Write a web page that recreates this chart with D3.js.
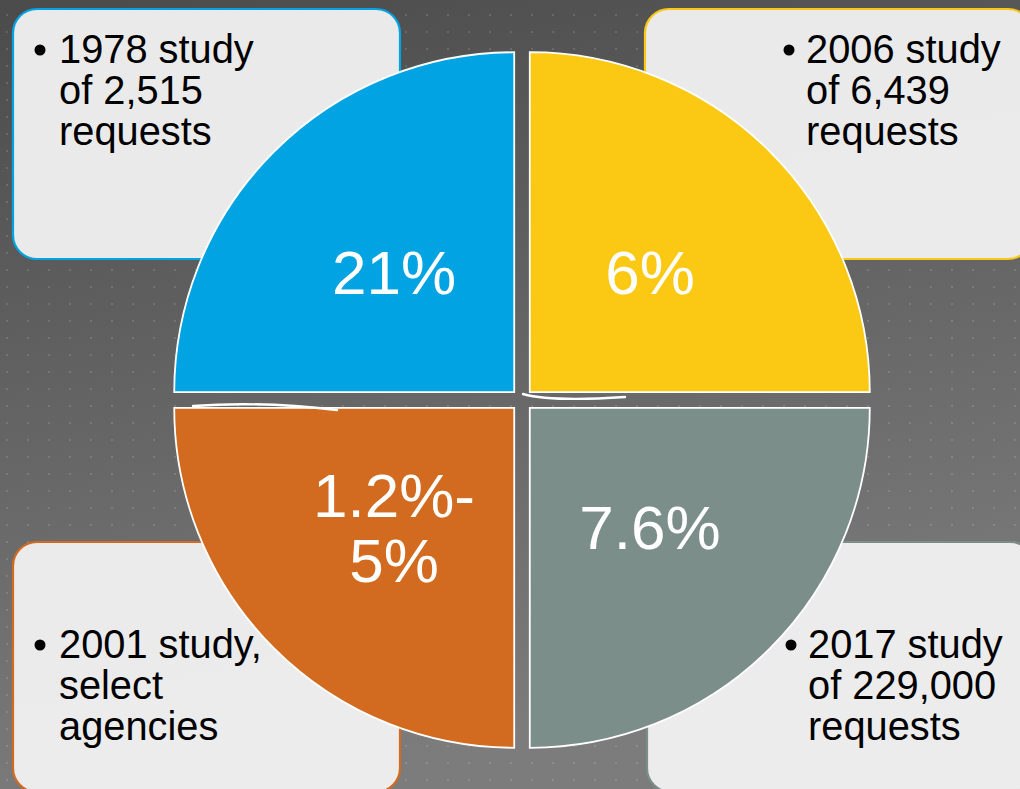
<!DOCTYPE html>
<html>
<head>
<meta charset="utf-8">
<script src="https://cdn.jsdelivr.net/npm/d3@7"></script>
<style>
  html, body { margin: 0; padding: 0; overflow: hidden; background: #5e5e5e; }
  svg { display: block; font-family: "Liberation Sans", Arial, sans-serif; }
</style>
</head>
<body>
<div id="chart"></div>
<script>
// quadrants, clockwise from top-left
const studies = ["1978 study", "2006 study", "2017 study", "2001 study,"];
const details = [
    ["of 2,515", "requests"],
    ["of 6,439", "requests"],
    ["of 229,000", "requests"],
    ["select", "agencies"]
];
const shareLabels = [["21%"], ["6%"], ["7.6%"], ["1.2%-", "5%"]];
const weights = [1, 1, 1, 1];
const colors = ["#02a3e3", "#fbc814", "#7c8e8a", "#d26b20"];

const width = 1020;
const height = 789;
const cx = 522, cy = 400;
const radius = 340;
const explode = 11;

const svg = d3.select("#chart")
    .append("svg")
    .attr("width", width)
    .attr("height", height);

const defs = svg.append("defs");

const grad = defs.append("linearGradient")
    .attr("id", "bg")
    .attr("x1", "0").attr("y1", "0")
    .attr("x2", "0.25").attr("y2", "1");
grad.append("stop").attr("offset", "0%").attr("stop-color", "#4b4b4b");
grad.append("stop").attr("offset", "100%").attr("stop-color", "#7c7c7c");

const pat = defs.append("pattern")
    .attr("id", "dots")
    .attr("patternUnits", "userSpaceOnUse")
    .attr("x", 6).attr("y", 14)
    .attr("width", 21).attr("height", 17);
pat.append("rect")
    .attr("width", 2).attr("height", 2)
    .attr("fill", "#ffffff")
    .attr("fill-opacity", 0.13);

svg.append("rect").attr("width", width).attr("height", height).attr("fill", "url(#bg)");
svg.append("rect").attr("width", width).attr("height", height).attr("fill", "url(#dots)");

/* text boxes in the four corners */
const boxW = 387, boxH = 250, boxR = 24;
const boxes = [
    { x: 13, y: 9, top: true },
    { x: 645, y: 9, top: true },
    { x: 647, y: 542, top: false },
    { x: 13, y: 542, top: false }
];

const box = svg.selectAll("g.box")
    .data(studies)
    .enter().append("g")
    .attr("class", "box");

box.append("rect")
    .attr("x", (d, i) => boxes[i].x)
    .attr("y", (d, i) => boxes[i].y)
    .attr("width", boxW)
    .attr("height", boxH)
    .attr("rx", boxR)
    .attr("fill", "#f0f0f0")
    .attr("fill-opacity", 0.96)
    .attr("stroke", (d, i) => colors[i])
    .attr("stroke-width", 2.2);

const lineH = 41;
box.append("circle")
    .attr("cx", (d, i) => boxes[i].x + (i === 1 || i === 2 ? 144 : 27))
    .attr("cy", (d, i) => boxes[i].top ? 50 : 645)
    .attr("r", 5.5)
    .attr("fill", "#000");

box.append("text")
    .attr("x", (d, i) => boxes[i].x + (i === 1 || i === 2 ? 161 : 46))
    .attr("y", (d, i) => boxes[i].top ? 63 : 658)
    .attr("font-size", 39.8)
    .attr("fill", "#000")
    .each(function(d, i) {
        const t = d3.select(this);
        const x = t.attr("x");
        t.append("tspan").attr("x", x).text(d);
        details[i].forEach(line => {
            t.append("tspan").attr("x", x).attr("dy", lineH).text(line);
        });
    });

/* exploded pie of four equal quadrants */
const pie = d3.pie()
    .value(d => d)
    .sort(null)
    .startAngle(-Math.PI / 2)
    .endAngle(3 * Math.PI / 2);

const arc = d3.arc()
    .innerRadius(0)
    .outerRadius(radius);

const slices = svg.append("g")
    .attr("transform", `translate(${cx}, ${cy})`)
    .selectAll("g.slice")
    .data(pie(weights))
    .enter().append("g")
    .attr("class", "slice")
    .attr("transform", d => {
        const a = (d.startAngle + d.endAngle) / 2;
        return `translate(${Math.sin(a) * explode}, ${-Math.cos(a) * explode})`;
    });

slices.append("path")
    .attr("d", arc)
    .attr("fill", (d, i) => colors[i])
    .attr("stroke", "white")
    .attr("stroke-width", 1.8);

slices.append("text")
    .attr("transform", d => "translate(" + arc.centroid(d) + ")")
    .attr("text-anchor", "middle")
    .attr("font-size", 62)
    .attr("fill", "white")
    .each(function(d, i) {
        const lines = shareLabels[i];
        const t = d3.select(this);
        lines.forEach((line, j) => {
            t.append("tspan")
                .attr("x", 0)
                .attr("y", 21.5 + (j - (lines.length - 1) / 2) * 65)
                .text(line);
        });
    });

// stray white strokes in the gaps between quadrants
const strokes = svg.append("g")
    .attr("transform", `translate(${cx}, ${cy})`)
    .attr("fill", "none")
    .attr("stroke", "white")
    .attr("stroke-linecap", "round");
strokes.append("path")
    .attr("d", "M-329,6 Q-260,1 -185,10")
    .attr("stroke-width", 2.4);
strokes.append("path")
    .attr("d", "M1,-6 Q30,2 103,-3")
    .attr("stroke-width", 2.4);
</script>
</body>
</html>
